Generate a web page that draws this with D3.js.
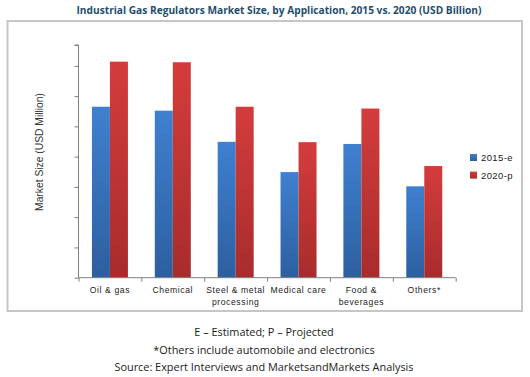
<!DOCTYPE html>
<html><head><meta charset="utf-8">
<script src="https://cdn.jsdelivr.net/npm/d3@7"></script>
<style>body{margin:0;background:#fff}svg{display:block}</style>
</head><body>
<script>
const categories = [["Oil & gas"],["Chemical"],["Steel & metal","processing"],["Medical care"],["Food &","beverages"],["Others*"]];
const seriesNames = ["2015-e","2020-p"];
const values2015 = [5.65, 5.52, 4.49, 3.49, 4.42, 3.02];
const values2020 = [7.14, 7.12, 5.65, 4.48, 5.59, 3.69];
const yTicks = [0,1,2,3,4,5,6,7];
const footnotes = ["E \u2013 Estimated; P \u2013 Projected","*Others include automobile and electronics","Source: Expert Interviews and MarketsandMarkets Analysis"];

const W=530,H=377;
const svg=d3.select("body").append("svg").attr("width",W).attr("height",H);
const defs=svg.append("defs");
function grad(id,top,bot){const g=defs.append("linearGradient").attr("id",id).attr("x1",0).attr("y1",0).attr("x2",0).attr("y2",1);
 g.append("stop").attr("offset","0%").attr("stop-color",top);g.append("stop").attr("offset","100%").attr("stop-color",bot);}
grad("gb","#3f80d0","#2d5f9f");
grad("gr","#d43c3c","#a82c2c");
const fills=["url(#gb)","url(#gr)"];

// frame
svg.append("rect").attr("x",7.5).attr("y",21).attr("width",514.5).attr("height",290).attr("fill","none").attr("stroke","#c6c6c6").attr("stroke-width",2);

// title
svg.append("text").attr("x",279).attr("y",14).attr("text-anchor","middle")
 .attr("font-family","'Open Sans',sans-serif").attr("font-weight","bold").attr("font-size",10.6)
 .attr("fill","#1f4e6e").attr("textLength",405).attr("lengthAdjust","spacingAndGlyphs")
 .text("Industrial Gas Regulators Market Size, by Application, 2015  vs. 2020  (USD Billion)");

const x0=78.5,x1=455.7,yb=277.7,yt=45;
const y=d3.scaleLinear().domain([0,7.69]).range([yb,yt]);
const x=d3.scaleBand().domain(d3.range(categories.length)).range([x0,x1]);
const xs=d3.scaleBand().domain([0,1]).range([0,36]);

const data=[values2015,values2020];
const g=svg.append("g");
categories.forEach((c,i)=>{
 data.forEach((vals,s)=>{
  g.append("rect").attr("x",x(i)+x.bandwidth()/2-18+xs(s)).attr("y",y(vals[i]))
   .attr("width",xs.bandwidth()).attr("height",yb-y(vals[i])).attr("fill",fills[s]);
 });
});

// y axis
const yAxis=d3.axisLeft(y).tickValues(yTicks.concat([7.69])).tickSize(4).tickFormat("");
const ya=svg.append("g").attr("transform",`translate(${x0},0)`).call(yAxis);
ya.select(".domain").attr("stroke","#7f7f7f").attr("d",`M-4,${yt}H0V${yb}`);
ya.selectAll(".tick line").attr("stroke","#7f7f7f");

// x axis
const xl=d3.scaleLinear().domain([0,categories.length]).range([x0,x1]);
const xAxis=d3.axisBottom(xl).tickValues(d3.range(categories.length+1)).tickSize(4).tickFormat("");
const xa=svg.append("g").attr("transform",`translate(0,${yb})`).call(xAxis);
xa.select(".domain").attr("stroke","#7f7f7f").attr("d",`M${x0},0H${x1}`);
xa.selectAll(".tick line").attr("stroke","#7f7f7f");

categories.forEach((c,i)=>{
 const t=svg.append("text").attr("text-anchor","middle").attr("font-family","'Liberation Sans',Arial,sans-serif")
  .attr("font-size",8.6).attr("letter-spacing",0.6).attr("fill","#222");
 c.forEach((line,k)=>t.append("tspan").attr("x",x(i)+x.bandwidth()/2).attr("y",293+k*11.7).text(line));
});

// y label
svg.append("text").attr("transform","translate(43,152) rotate(-90)").attr("text-anchor","middle")
 .attr("font-family","'Liberation Sans',Arial,sans-serif").attr("font-size",10.3).attr("fill","#333")
 .text("Market Size (USD Million)");

// legend
seriesNames.forEach((n,s)=>{
 const ly=157.5+s*17.6;
 svg.append("rect").attr("x",470).attr("y",ly-3.5).attr("width",7).attr("height",7).attr("fill",fills[s]);
 svg.append("text").attr("x",481).attr("y",ly+3.5).attr("font-family","'Liberation Sans',Arial,sans-serif")
  .attr("font-size",9.5).attr("letter-spacing",0.4).attr("fill","#222").text(n);
});

// footnotes
footnotes.forEach((f,k)=>{
 svg.append("text").attr("x",264).attr("y",336+k*17.5).attr("text-anchor","middle")
  .attr("font-family","'Open Sans',sans-serif").attr("font-size",10.9).attr("fill","#1a1a1a").text(f);
});
</script>
</body></html>
